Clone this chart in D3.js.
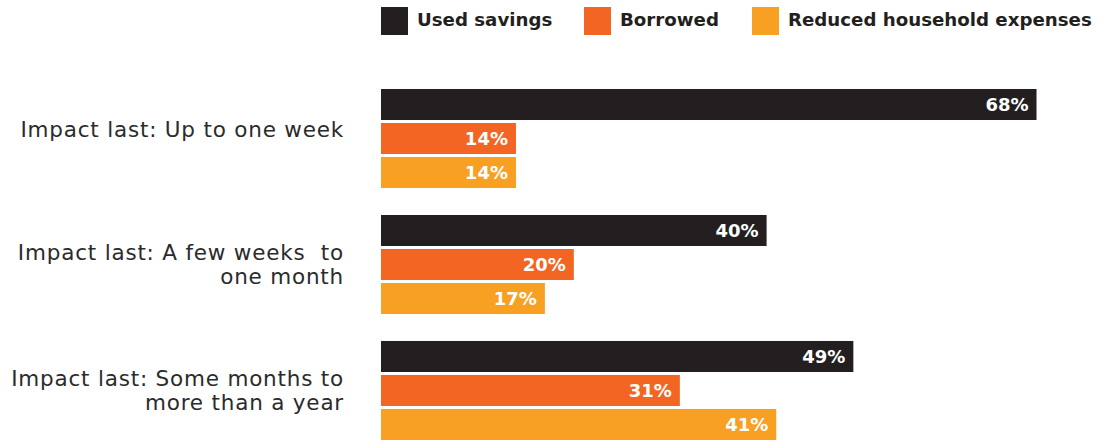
<!DOCTYPE html>
<html><head><meta charset="utf-8">
<script src="https://cdn.jsdelivr.net/npm/d3@7"></script>
<style>
html,body{margin:0;padding:0;background:#fff;}
svg{display:block;font-family:"DejaVu Sans",sans-serif;}
</style></head>
<body><svg id="c" width="1110" height="440"></svg>
<script>
const categories = [
  ["Impact last: Up to one week"],
  ["Impact last: A few weeks  to", "one month"],
  ["Impact last: Some months to", "more than a year"]
];
const seriesNames = ["Used savings", "Borrowed", "Reduced household expenses"];
const usedSavings = [68, 40, 49];
const borrowed = [14, 20, 31];
const reducedExpenses = [14, 17, 41];
const colors = ["#231f20", "#f26522", "#f7a021"];

const seriesValues = [usedSavings, borrowed, reducedExpenses];
const svg = d3.select("#c");
const catKeys = categories.map((c, i) => i);

const x = d3.scaleLinear().domain([0, 100]).range([381, 1345]);
const y0 = d3.scaleBand().domain(catKeys).range([89, 440]).paddingInner(0.214).paddingOuter(0);
const y1 = d3.scaleBand().domain(d3.range(seriesNames.length)).range([0, y0.bandwidth()]).paddingInner(0.088).paddingOuter(0);

// legend
const legendX = [381, 584, 752];
const lg = svg.append("g");
seriesNames.forEach((s, i) => {
  lg.append("rect").attr("x", legendX[i]).attr("y", 7).attr("width", 27).attr("height", 28).attr("fill", colors[i]);
  lg.append("text").attr("x", legendX[i] + 36).attr("y", 20).attr("dy", "0.35em")
    .attr("font-size", 18.2).attr("font-weight", "bold").attr("fill", "#231f20").text(s);
});

// groups
const g = svg.append("g");
catKeys.forEach(ci => {
  const gy = y0(ci);
  seriesValues.forEach((vals, si) => {
    const v = vals[ci];
    g.append("rect").attr("x", x(0)).attr("y", gy + y1(si))
      .attr("width", x(v) - x(0)).attr("height", y1.bandwidth()).attr("fill", colors[si]);
    g.append("text").attr("x", x(v) - 8).attr("y", gy + y1(si) + y1.bandwidth() / 2).attr("dy", "0.36em")
      .attr("text-anchor", "end").attr("font-size", 18).attr("font-weight", "bold").attr("fill", "#fff")
      .text(v + "%");
  });
  const lines = categories[ci];
  const center = gy + y0.bandwidth() / 2;
  const lh = 24;
  const shift = lines.length === 1 ? -9 : 0;
  lines.forEach((ln, li) => {
    g.append("text").attr("x", 344).attr("y", center - (lines.length - 1) * lh / 2 + li * lh + shift).attr("dy", "0.35em")
      .attr("text-anchor", "end").attr("font-size", 21.5).attr("letter-spacing", 0.8).attr("fill", "#2b2b2b")
      .attr("xml:space", "preserve").style("white-space", "pre").text(ln);
  });
});
</script></body></html>
